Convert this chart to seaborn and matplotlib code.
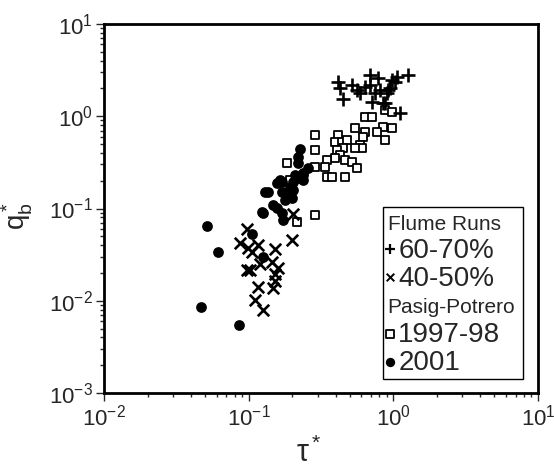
import numpy as np
import pandas as pd
import matplotlib
matplotlib.use("Agg")
import matplotlib.pyplot as plt
import seaborn as sns
from matplotlib.ticker import LogLocator, NullFormatter, LogFormatterMathtext
from matplotlib.patches import Rectangle

sns.set_style("white")
plt.rcParams["font.family"] = ["Liberation Sans", "DejaVu Sans"]
plt.rcParams["mathtext.fontset"] = "custom"
plt.rcParams["mathtext.rm"] = "Liberation Sans"
plt.rcParams["mathtext.it"] = "Liberation Sans:italic"
plt.rcParams["mathtext.bf"] = "Liberation Sans:bold"

# Flume runs 60-70%
flume6070_tau = [0.414, 0.428, 0.449, 0.517, 0.560, 0.588, 0.637, 0.689, 0.689, 0.746,
                 0.783, 0.808, 0.711, 0.848, 0.918, 0.977, 1.026, 0.948, 0.904, 1.11,
                 1.262, 0.875, 1.059]
flume6070_q = [2.35, 2.02, 1.54, 2.18, 1.93, 1.79, 2.08, 2.80, 2.18, 1.79,
               2.60, 1.93, 1.43, 1.39, 1.93, 2.47, 2.35, 2.02, 1.79, 1.08,
               2.80, 1.39, 2.66]

# Flume runs 40-50%
flume4050_tau = [0.0973, 0.0871, 0.0989, 0.116, 0.1055, 0.152, 0.199, 0.202, 0.0973, 0.102,
                 0.1197, 0.145, 0.159, 0.152, 0.152, 0.116, 0.147, 0.1106, 0.1256]
flume4050_q = [0.060, 0.0423, 0.0373, 0.0402, 0.0338, 0.0364, 0.0456, 0.0872, 0.0215, 0.0215,
               0.025, 0.0263, 0.0226, 0.0195, 0.0164, 0.0141, 0.0137, 0.0102, 0.0079]

# Pasig-Potrero 1997-98
pp9798_tau = [0.637, 0.711, 0.875, 0.977, 0.848, 0.977, 0.875, 0.543, 0.637, 0.771,
              0.287, 0.287, 0.414, 0.395, 0.441, 0.478, 0.617, 0.588, 0.607, 0.543,
              0.449, 0.408, 0.428, 0.395, 0.348, 0.337, 0.463, 0.517, 0.560, 0.348,
              0.377, 0.463, 0.193, 0.287, 0.216, 0.287, 0.184]
pp9798_q = [0.98, 0.98, 1.17, 1.11, 0.764, 0.746, 0.553, 0.746, 0.675, 0.675,
            0.626, 0.431, 0.626, 0.526, 0.526, 0.553, 0.596, 0.488, 0.453, 0.453,
            0.453, 0.431, 0.380, 0.353, 0.336, 0.282, 0.336, 0.319, 0.275, 0.219,
            0.219, 0.219, 0.204, 0.085, 0.0714, 0.282, 0.311]

# Pasig-Potrero 2001
pp2001_tau = [0.226, 0.219, 0.219, 0.257, 0.237, 0.209, 0.202, 0.237, 0.170, 0.157,
              0.1297, 0.136, 0.170, 0.187, 0.202, 0.178, 0.147, 0.157, 0.1236, 0.170,
              0.199, 0.1726, 0.0515, 0.0614, 0.1055, 0.1256, 0.047, 0.0857, 0.193, 0.164,
              0.216, 0.237, 0.184, 0.1256]
pp2001_q = [0.442, 0.362, 0.311, 0.275, 0.243, 0.231, 0.194, 0.204, 0.194, 0.189,
            0.151, 0.151, 0.151, 0.151, 0.159, 0.124, 0.109, 0.101, 0.0916, 0.0894,
            0.130, 0.075, 0.0646, 0.0338, 0.053, 0.0298, 0.00855, 0.00546, 0.167, 0.204,
            0.214, 0.231, 0.140, 0.0894]

legend_header1 = "Flume Runs"
legend_header2 = "Pasig-Potrero"
legend_labels = ["60-70%", "40-50%", "1997-98", "2001"]

fig = plt.figure(figsize=(5.54, 4.68), dpi=100)
ax = fig.add_axes([104 / 554, 75 / 468, 434 / 554, 369 / 468])

sns.scatterplot(x=pp9798_tau, y=pp9798_q, marker="s", s=26, facecolor="white",
                edgecolor="black", linewidth=1.3, ax=ax, zorder=3)
sns.scatterplot(x=pp2001_tau, y=pp2001_q, marker="o", s=60, color="black",
                edgecolor="black", linewidth=0, ax=ax, zorder=3)
sns.scatterplot(x=flume4050_tau, y=flume4050_q, marker="x", s=68, color="black",
                linewidth=1.9, ax=ax, zorder=3)
sns.scatterplot(x=flume6070_tau, y=flume6070_q, marker="+", s=95, color="black",
                linewidth=1.9, ax=ax, zorder=3)

ax.set_xscale("log")
ax.set_yscale("log")
ax.set_xlim(1e-2, 1e1)
ax.set_ylim(1e-3, 1e1)

for a in (ax.xaxis, ax.yaxis):
    a.set_major_locator(LogLocator(base=10, numticks=10))
    a.set_minor_locator(LogLocator(base=10, subs=np.arange(2, 10), numticks=20))
    a.set_minor_formatter(NullFormatter())
    a.set_major_formatter(LogFormatterMathtext())

ax.tick_params(which="major", direction="out", length=6, width=1.0, labelsize=16,
               bottom=True, left=True, top=False, right=False, pad=2)
ax.tick_params(which="minor", direction="out", length=3, width=1.0,
               bottom=True, left=True, top=False, right=False)
for sp in ax.spines.values():
    sp.set_linewidth(2.0)
    sp.set_color("black")
    sp.set_visible(True)

ax.set_xlabel(r"$\mathregular{\tau^*}$", fontsize=22)
ax.set_ylabel(r"$\mathregular{q_b^*}$", fontsize=20)
ax.xaxis.set_label_coords(0.472, -0.188)
ax.xaxis.label.set_verticalalignment("baseline")
ax.yaxis.set_label_coords(-0.16, 0.48)

# legend box
lx0, lx1 = 0.643, 0.965
ly0, ly1 = 0.038, 0.504
ax.add_patch(Rectangle((lx0, ly0), lx1 - lx0, ly1 - ly0, transform=ax.transAxes,
                       fill=False, lw=1.0, ec="black", zorder=5, clip_on=False))
centers = [0.463, 0.390, 0.314, 0.236, 0.160, 0.084]
baselines = [0.443, 0.367, 0.291, 0.216, 0.137, 0.061]
ax.text(0.654, baselines[0], legend_header1, transform=ax.transAxes, fontsize=15,
        va="baseline", ha="left", zorder=6)
ax.text(0.652, baselines[3], legend_header2, transform=ax.transAxes, fontsize=15,
        va="baseline", ha="left", zorder=6)
mk = [("+", 60, 1.6, "black", "black"), ("x", 30, 1.4, "black", "black"),
      ("s", 26, 1.3, "white", "black"), ("o", 45, 0, "black", "black")]
rows_idx = [1, 2, 4, 5]
for (m, s, lw, fc, ec), lab, i in zip(mk, legend_labels, rows_idx):
    if m in "+x":
        ax.scatter([0.659], [centers[i]], marker=m, s=s, linewidths=lw, c="black",
                   transform=ax.transAxes, zorder=6, clip_on=False)
    else:
        ax.scatter([0.659], [centers[i]], marker=m, s=s, linewidths=lw, facecolors=fc,
                   edgecolors=ec, transform=ax.transAxes, zorder=6, clip_on=False)
    ax.text(0.678, baselines[i], lab, transform=ax.transAxes, fontsize=20, va="baseline",
            ha="left", zorder=6)

fig.savefig("out.png", dpi=100)
